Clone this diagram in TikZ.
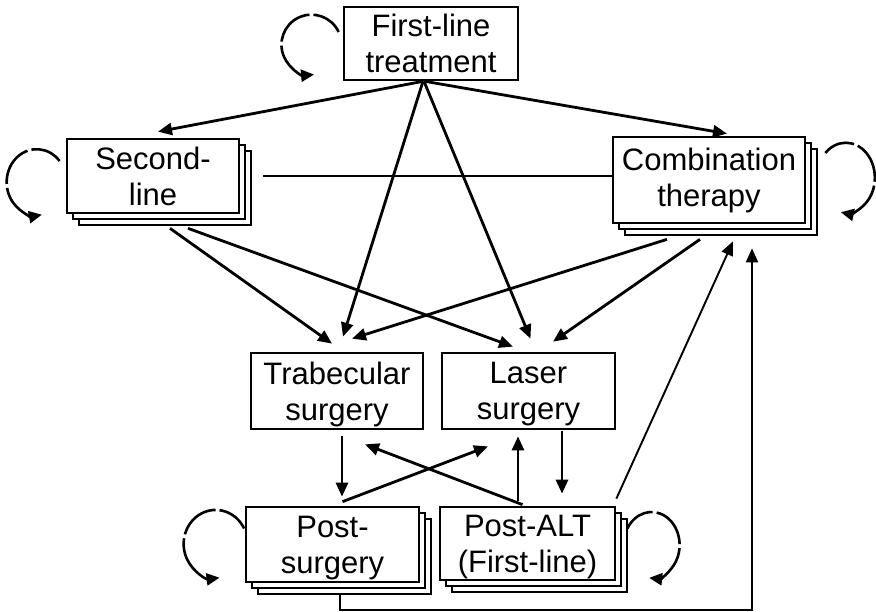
\documentclass[tikz,border=0pt]{standalone}
\usepackage{fontspec}
\setmainfont{Liberation Sans}
\usetikzlibrary{arrows.meta,shadows}
\tikzset{
  statebox/.style={draw, line width=2.7pt, fill=white, align=center, inner sep=0pt,
    text depth=0pt, font=\fontsize{31}{36}\selectfont},
  stackbox/.style={statebox, double copy shadow={shadow xshift=6pt, shadow yshift=-6pt}},
  arr/.style={line width=2.8pt, -{Triangle[length=14pt,width=12pt]}},
  thinarr/.style={line width=1.9pt, -{Triangle[length=14pt,width=12pt]}},
  selfloop/.style={line width=2.6pt, dash pattern=on 32pt off 4pt on 42pt off 4pt on 300pt,
    -{Triangle[length=13pt,width=12pt]}}
}
\begin{document}
\begin{tikzpicture}[x=1pt,y=1pt]
  \useasboundingbox (0,0) rectangle (876,-612);
  \node [statebox, minimum width=174, minimum height=73] (first) at (431,-43.5) {First-line\\treatment};
  \node [stackbox, minimum width=172, minimum height=74] (second) at (153,-176) {Second-\\line};
  \node [stackbox, minimum width=192, minimum height=86, text depth=6pt] (combo) at (709,-180) {Combination\\therapy};
  \node [statebox, minimum width=172, minimum height=76] (trab) at (337,-391) {Trabecular\\surgery};
  \node [statebox, minimum width=173, minimum height=76] (laser) at (528.5,-391) {Laser\\surgery};
  \node [stackbox, minimum width=173, minimum height=75] (postsurg) at (332.5,-544.5) {Post-\\surgery};
  \node [stackbox, minimum width=175, minimum height=73] (postalt) at (527.5,-543.5) {Post-ALT\\(First-line)};

  % from first-line treatment
  \draw [arr] ([xshift=-8pt]first.south) -- ([xshift=5pt,yshift=6pt]second.north);
  \draw [arr] ([xshift=-6pt]first.south) -- ([xshift=18pt,yshift=2pt]combo.north);
  \draw [arr] ([xshift=-8pt]first.south) -- ([xshift=6pt,yshift=15pt]trab.north);
  \draw [arr] ([xshift=-7pt]first.south) -- ([xshift=2pt,yshift=13pt]laser.north);
  \coordinate (sl) at ([xshift=23pt]second.east);
  \draw [line width=1.9pt] (sl) -- (sl -| combo.west);

  % into the surgery boxes
  \draw [arr] ([xshift=17pt,yshift=-14pt]second.south) -- ([xshift=-5pt,yshift=8pt]trab.north);
  \draw [arr] ([xshift=35pt,yshift=-14pt]second.south) -- ([xshift=-15.5pt,yshift=5pt]laser.north);
  \draw [arr] ([xshift=-42pt,yshift=-15pt]combo.south) -- ([xshift=15pt,yshift=13pt]trab.north);
  \draw [arr] ([xshift=-9pt,yshift=-15pt]combo.south) -- ([xshift=24.5pt,yshift=10pt]laser.north);

  % bottom part
  \draw [arr] ([xshift=5pt,yshift=-6pt]trab.south) -- ([xshift=9.5pt,yshift=9pt]postsurg.north);
  \draw [arr] ([xshift=10pt,yshift=4pt]postsurg.north) -- ([xshift=-40.5pt,yshift=-16pt]laser.south);
  \draw [arr] ([xshift=-5pt,yshift=1pt]postalt.north) -- ([xshift=28pt,yshift=-14pt]trab.south);
  \draw [arr] ([xshift=-9.5pt,yshift=5pt]postalt.north) -- ([xshift=-10.5pt,yshift=-6pt]laser.south);
  \draw [arr] ([xshift=33.5pt,yshift=-1pt]laser.south) -- ([xshift=34.5pt,yshift=12pt]postalt.north);
  \draw [thinarr] ([yshift=7pt]postalt.north east) -- ([xshift=24pt,yshift=-17pt]combo.south);
  \draw [thinarr] ([xshift=7.5pt,yshift=-10pt]postsurg.south) -- ++(0,-17) -| ([xshift=43pt,yshift=-24pt]combo.south);

  % self loops
  \draw [selfloop] ([xshift=-4pt,yshift=11.5pt]first.west) arc [start angle=25, end angle=275, radius=30];
  \draw [selfloop] ([xshift=-6pt,yshift=15pt]second.west) arc [start angle=40, end angle=280, x radius=30, y radius=33];
  \draw [selfloop] ([xshift=19pt,yshift=27pt]combo.east) arc [start angle=135, end angle=-100, x radius=29, y radius=35];
  \draw [selfloop] ([xshift=-0.5pt,yshift=16pt]postsurg.west) arc [start angle=27, end angle=277, x radius=32, y radius=34];
  \draw [selfloop] ([xshift=11pt,yshift=15pt]postalt.east) arc [start angle=150, end angle=-95, x radius=28, y radius=33];
\end{tikzpicture}
\end{document}
